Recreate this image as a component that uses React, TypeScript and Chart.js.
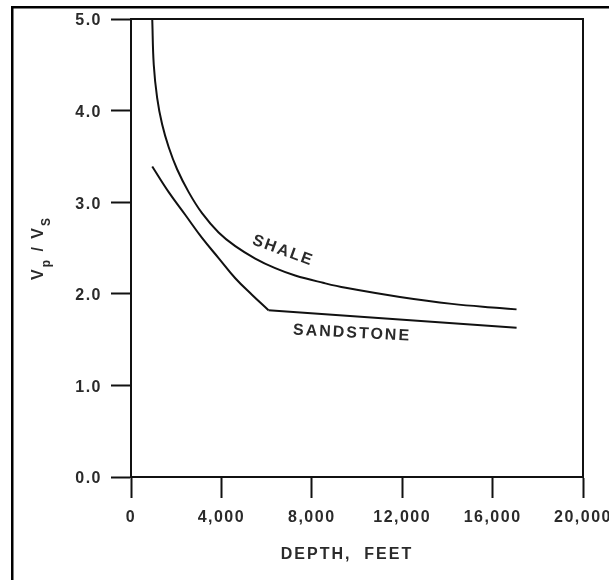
import { useEffect, useRef } from 'react';
import { Chart, registerables } from 'chart.js';

Chart.register(...registerables);

// Axis ticks
const depthTicks = [0, 4000, 8000, 12000, 16000, 20000];
const ratioTicks = [0, 1, 2, 3, 4, 5];

// Vp/Vs against depth (feet)
const shaleDepth = [940, 1007, 1157, 1377, 1669, 2040, 2552, 3143, 3876, 4614, 5497, 6380, 7263, 8500, 9500, 11900, 14200, 16310, 17060];
const shaleRatio = [5.0, 4.5, 4.14, 3.85, 3.6, 3.36, 3.11, 2.88, 2.67, 2.52, 2.385, 2.28, 2.2, 2.12, 2.065, 1.965, 1.89, 1.845, 1.83];
const sandDepth = [940, 1669, 2406, 3143, 3876, 4614, 5351, 6084, 17060];
const sandRatio = [3.39, 3.11, 2.86, 2.61, 2.39, 2.17, 1.99, 1.82, 1.63];
// index of the sandstone break in slope
const sandBreak = 7;

// Curve captions, placed in data space
const shaleLabel = { text: 'SHALE', depth: 6730, ratio: 2.47, angle: 20 };
const sandLabel = { text: 'SANDSTONE', depth: 9780, ratio: 1.57, angle: 3 };

const INK = '#111';
const TEXT = '#2a2a2a';
const FONT = '"Liberation Sans", Arial, Helvetica, sans-serif';

const toPoints = (xs: number[], ys: number[]) => xs.map((x, i) => ({ x, y: ys[i] }));

const decorations = {
  id: 'decorations',
  beforeDraw(chart: any) {
    const ctx = chart.ctx;
    ctx.save();
    ctx.fillStyle = '#fff';
    ctx.fillRect(0, 0, chart.width, chart.height);
    // outer frame (left and top edges)
    ctx.fillStyle = '#000';
    ctx.fillRect(11, 6, chart.width, 2.5);
    ctx.fillRect(11, 6, 2.5, chart.height);
    ctx.restore();
    ctx.letterSpacing = '1.5px';
  },
  afterDraw(chart: any) {
    const ctx = chart.ctx;
    const { left, right, top, bottom } = chart.chartArea;
    const xs = chart.scales.x;
    const ys = chart.scales.y;
    ctx.save();
    // closing top and right edges of the plot box
    ctx.strokeStyle = INK;
    ctx.lineWidth = 2;
    ctx.beginPath();
    ctx.moveTo(left, top);
    ctx.lineTo(right, top);
    ctx.lineTo(right, bottom);
    ctx.stroke();

    ctx.fillStyle = TEXT;
    ctx.letterSpacing = '2px';

    // x axis title
    ctx.font = `bold 16px ${FONT}`;
    ctx.textAlign = 'center';
    ctx.textBaseline = 'middle';
    ctx.fillText('DEPTH,  FEET', (left + right) / 2 - 10, 555);

    // y axis title with subscripts
    const parts = [
      { t: 'V', sub: false },
      { t: 'p', sub: true },
      { t: ' / ', sub: false },
      { t: 'V', sub: false },
      { t: 'S', sub: true },
    ];
    const fontFor = (sub: boolean) => (sub ? `bold 12px ${FONT}` : `bold 16px ${FONT}`);
    let total = 0;
    for (const p of parts) {
      ctx.font = fontFor(p.sub);
      total += ctx.measureText(p.t).width;
    }
    ctx.translate(43, (top + bottom) / 2);
    ctx.rotate(-Math.PI / 2);
    ctx.textAlign = 'left';
    ctx.textBaseline = 'alphabetic';
    let cx = -total / 2;
    for (const p of parts) {
      ctx.font = fontFor(p.sub);
      ctx.fillText(p.t, cx, p.sub ? 7 : 0);
      cx += ctx.measureText(p.t).width;
    }
    ctx.setTransform(1, 0, 0, 1, 0, 0);

    // curve captions
    ctx.font = `bold 16px ${FONT}`;
    ctx.textAlign = 'center';
    ctx.textBaseline = 'middle';
    for (const lab of [shaleLabel, sandLabel]) {
      ctx.save();
      ctx.translate(xs.getPixelForValue(lab.depth), ys.getPixelForValue(lab.ratio));
      ctx.rotate((lab.angle * Math.PI) / 180);
      ctx.fillText(lab.text, 0, 0);
      ctx.restore();
    }
    ctx.restore();
  },
};

const lineStyle = {
  showLine: true,
  borderColor: INK,
  borderWidth: 2,
  pointRadius: 0,
};

export default function App() {
  const ref = useRef<HTMLCanvasElement>(null);

  useEffect(() => {
    if (!ref.current) return;
    const tickFont = { family: FONT, size: 16, weight: 'bold' };
    const sandPoints = toPoints(sandDepth, sandRatio);
    const chart = new Chart(ref.current, {
      type: 'scatter',
      data: {
        datasets: [
          {
            label: 'SHALE',
            data: toPoints(shaleDepth, shaleRatio),
            ...lineStyle,
            tension: 0.4,
          },
          {
            label: 'SANDSTONE',
            data: sandPoints.slice(0, sandBreak + 1),
            ...lineStyle,
            tension: 0.4,
          },
          {
            label: 'SANDSTONE (deep)',
            data: sandPoints.slice(sandBreak),
            ...lineStyle,
            tension: 0,
          },
        ],
      },
      options: {
        animation: false,
        responsive: false,
        events: [],
        layout: { padding: { top: 19, right: 26, bottom: 0, left: 0 } },
        plugins: { legend: { display: false }, tooltip: { enabled: false } },
        scales: {
          x: {
            type: 'linear',
            min: 0,
            max: 20000,
            afterBuildTicks: (s: any) => {
              s.ticks = depthTicks.map((v) => ({ value: v }));
            },
            afterFit: (s: any) => {
              s.height = 103;
              s.paddingLeft = 0;
              s.paddingRight = 0;
            },
            grid: { drawOnChartArea: false, drawTicks: true, tickLength: 21, tickWidth: 2, tickColor: INK },
            border: { display: true, width: 2, color: INK },
            ticks: {
              font: tickFont,
              color: TEXT,
              padding: 10,
              maxRotation: 0,
              autoSkip: false,
              callback: (v: any) => Number(v).toLocaleString('en-US'),
            },
          },
          y: {
            type: 'linear',
            min: 0,
            max: 5,
            afterBuildTicks: (s: any) => {
              s.ticks = ratioTicks.map((v) => ({ value: v }));
            },
            afterFit: (s: any) => {
              s.width = 131;
              s.paddingTop = 0;
              s.paddingBottom = 0;
            },
            grid: { drawOnChartArea: false, drawTicks: true, tickLength: 20, tickWidth: 2, tickColor: INK },
            border: { display: true, width: 2, color: INK },
            ticks: {
              font: tickFont,
              color: TEXT,
              padding: 9,
              labelOffset: 2,
              autoSkip: false,
              callback: (v: any) => Number(v).toFixed(1),
            },
          },
        },
      },
      plugins: [decorations],
    } as any);
    return () => chart.destroy();
  }, []);

  return (
    <div style={{ position: 'absolute', left: 0, top: 0, width: 609, height: 580, overflow: 'hidden' }}>
      <canvas ref={ref} width={609} height={580} style={{ display: 'block' }} />
    </div>
  );
}
